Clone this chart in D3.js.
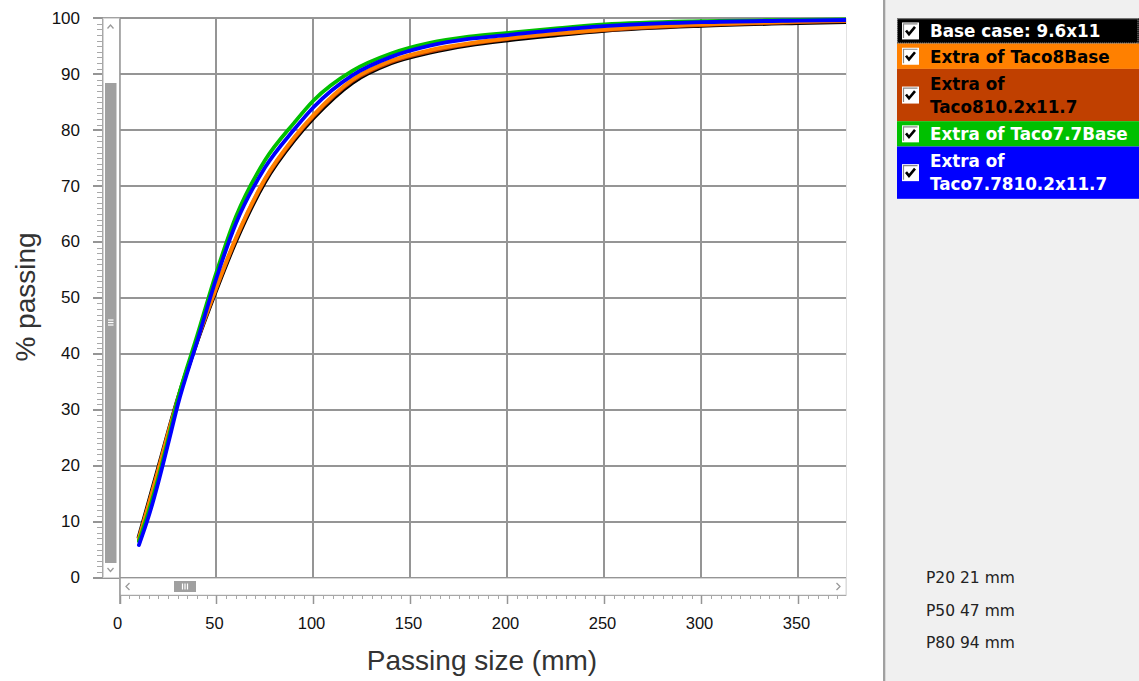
<!DOCTYPE html>
<html>
<head>
<meta charset="utf-8">
<script src="https://cdn.jsdelivr.net/npm/d3@7"></script>
<style>
  html, body { margin: 0; padding: 0; background: #ffffff; }
  svg { display: block; }
</style>
</head>
<body>
<svg id="chart" width="1139" height="681"></svg>
<script>
// Passing size (mm) at which each curve is sampled
const sizes = [10, 15, 20, 25, 30, 40, 50, 60, 75, 90, 100, 120, 140, 160, 180, 200, 225, 250, 300, 350, 375];

// % passing for each case
const baseCase   = [7.2, 13.3, 19.5, 25.8, 31.8, 42.3, 51.6, 60.2, 70.8, 78.2, 82.2, 88.5, 92.0, 93.9, 95.2, 96.1, 97.0, 97.8, 98.7, 99.2, 99.4];
const taco8Base  = [7.0, 13.0, 19.2, 25.7, 31.8, 42.5, 52.0, 60.7, 71.3, 78.7, 82.7, 89.0, 92.4, 94.3, 95.5, 96.4, 97.3, 98.0, 98.9, 99.4, 99.6];
const taco810    = [6.8, 12.9, 19.1, 25.5, 31.6, 42.3, 51.8, 60.5, 71.1, 78.5, 82.5, 88.8, 92.2, 94.1, 95.4, 96.3, 97.2, 97.9, 98.8, 99.3, 99.5];
const taco77Base = [6.5, 11.8, 17.8, 24.6, 31.8, 43.2, 54.6, 64.5, 74.6, 81.3, 85.3, 90.6, 93.7, 95.6, 96.7, 97.4, 98.2, 98.9, 99.5, 99.7, 99.8];
const taco77810  = [5.8, 10.9, 17.0, 23.8, 30.8, 42.2, 53.6, 63.3, 73.3, 80.1, 84.1, 89.8, 93.1, 95.1, 96.3, 97.0, 97.9, 98.6, 99.3, 99.6, 99.7];

const seriesNames = ["Base case: 9.6x11", "Extra of Taco8Base", "Extra of Taco810.2x11.7", "Extra of Taco7.7Base", "Extra of Taco7.7810.2x11.7"];
const seriesColors = ["#000000", "#ff8000", "#c04000", "#00c000", "#0000ff"];
const legendTextColors = ["#ffffff", "#000000", "#000000", "#ffffff", "#ffffff"];
const seriesValues = [baseCase, taco8Base, taco810, taco77Base, taco77810];

const xTicks = [0, 50, 100, 150, 200, 250, 300, 350];
const yTicks = [0, 10, 20, 30, 40, 50, 60, 70, 80, 90, 100];
const xTitle = "Passing size (mm)";
const yTitle = "% passing";
const percentileLabels = ["P20 21 mm", "P50 47 mm", "P80 94 mm"];

const svg = d3.select("#chart");
const W = 1139, H = 681;

// plot frame
const plot = { left: 119.5, right: 846, top: 18.3, bottom: 577.5 };
const x = d3.scaleLinear().domain([0, 374.5]).range([plot.left, plot.right]);
const y = d3.scaleLinear().domain([0, 100]).range([plot.bottom, plot.top]);

const gridColor = "#959595";
const tickFont = "'Liberation Sans', Arial, sans-serif";

// ---- right side panel ----
svg.append("rect").attr("x", 0).attr("y", 0).attr("width", W).attr("height", H).attr("fill", "#ffffff");
svg.append("rect").attr("x", 886).attr("y", 0).attr("width", W - 886).attr("height", H).attr("fill", "#f0f0f0");
svg.append("rect").attr("x", 883).attr("y", 0).attr("width", 2).attr("height", H).attr("fill", "#a0a0a0");
svg.append("rect").attr("x", 885).attr("y", 0).attr("width", 1).attr("height", H).attr("fill", "#d8d8d8");

// ---- gridlines ----
const grid = svg.append("g").attr("stroke", gridColor).attr("stroke-width", 2);
grid.selectAll("line.h").data(yTicks).join("line")
  .attr("class", "h")
  .attr("x1", 93).attr("x2", plot.right)
  .attr("y1", d => Math.round(y(d))).attr("y2", d => Math.round(y(d)));
grid.selectAll("line.v").data(xTicks.filter(d => d > 0)).join("line")
  .attr("class", "v")
  .attr("x1", d => Math.round(x(d))).attr("x2", d => Math.round(x(d)))
  .attr("y1", plot.top).attr("y2", plot.bottom);
// light right border of the plot
svg.append("line").attr("x1", plot.right + 0.5).attr("x2", plot.right + 0.5)
  .attr("y1", plot.top).attr("y2", 596).attr("stroke", "#e2e2e2").attr("stroke-width", 1);

// ---- y ruler with minor ticks ----
const yRuler = svg.append("g").attr("stroke", "#a8a8a8").attr("stroke-width", 1);
yRuler.append("line").attr("x1", 102.5).attr("x2", 102.5).attr("y1", plot.top).attr("y2", plot.bottom);
yRuler.selectAll("line.m").data(d3.range(0, 101, 1).filter(v => v % 10 !== 0)).join("line")
  .attr("class", "m")
  .attr("x1", 97).attr("x2", 102.5)
  .attr("y1", d => Math.round(y(d)) + 0.5).attr("y2", d => Math.round(y(d)) + 0.5);

// ---- vertical scrollbar ----
const vs = svg.append("g");
vs.append("rect").attr("x", 103.5).attr("y", plot.top).attr("width", 16).attr("height", plot.bottom - plot.top)
  .attr("fill", "#ffffff").attr("stroke", "#d6d6d6").attr("stroke-width", 1);
vs.append("rect").attr("x", 105).attr("y", 83).attr("width", 11.5).attr("height", 480).attr("fill", "#a0a0a0");
vs.append("path").attr("d", "M107.5,28.5 L110.5,25 L113.5,28.5").attr("fill", "none").attr("stroke", "#9a9a9a").attr("stroke-width", 1.3);
vs.append("path").attr("d", "M107.5,568 L110.5,571.5 L113.5,568").attr("fill", "none").attr("stroke", "#9a9a9a").attr("stroke-width", 1.3);
vs.selectAll("line.grip").data([-2.5, 0, 2.5]).join("line")
  .attr("x1", 108).attr("x2", 113.5).attr("y1", d => 322.5 + d).attr("y2", d => 322.5 + d)
  .attr("stroke", "#ffffff").attr("stroke-width", 1.2);

// ---- horizontal scrollbar ----
const hs = svg.append("g");
hs.append("rect").attr("x", plot.left).attr("y", 578.5).attr("width", plot.right - plot.left).attr("height", 16.5)
  .attr("fill", "#ffffff").attr("stroke", "#d6d6d6").attr("stroke-width", 1);
hs.append("rect").attr("x", 174).attr("y", 581).attr("width", 22).attr("height", 11).attr("fill", "#a0a0a0");
hs.append("path").attr("d", "M129.5,583 L126,586.5 L129.5,590").attr("fill", "none").attr("stroke", "#9a9a9a").attr("stroke-width", 1.3);
hs.append("path").attr("d", "M836.5,583 L840,586.5 L836.5,590").attr("fill", "none").attr("stroke", "#9a9a9a").attr("stroke-width", 1.3);
hs.selectAll("line.grip").data([-2.5, 0, 2.5]).join("line")
  .attr("x1", d => 185 + d).attr("x2", d => 185 + d).attr("y1", 583.5).attr("y2", 589.5)
  .attr("stroke", "#ffffff").attr("stroke-width", 1.2);
// left edge of plot / scrollbar down to the ruler
svg.append("line").attr("x1", plot.left + 0.5).attr("x2", plot.left + 0.5).attr("y1", plot.top).attr("y2", 604)
  .attr("stroke", gridColor).attr("stroke-width", 1.5);

// ---- x ruler ----
const xr = svg.append("g").attr("stroke", "#a8a8a8").attr("stroke-width", 1);
xr.append("line").attr("x1", plot.left).attr("x2", plot.right).attr("y1", 595.5).attr("y2", 595.5);
xr.selectAll("line.m").data(d3.range(5, 375, 5).filter(v => v % 50 !== 0)).join("line")
  .attr("class", "m")
  .attr("x1", d => Math.round(x(d)) + 0.5).attr("x2", d => Math.round(x(d)) + 0.5)
  .attr("y1", 595.5).attr("y2", 599);
xr.selectAll("line.M").data(xTicks).join("line")
  .attr("class", "M")
  .attr("stroke", gridColor).attr("stroke-width", 1.5)
  .attr("x1", d => Math.round(x(d)) + 0.5).attr("x2", d => Math.round(x(d)) + 0.5)
  .attr("y1", 595.5).attr("y2", 604);

// ---- tick labels ----
svg.append("g").selectAll("text").data(yTicks).join("text")
  .attr("x", 80).attr("y", d => y(d))
  .attr("text-anchor", "end").attr("dominant-baseline", "central")
  .attr("font-family", tickFont).attr("font-size", 17).attr("fill", "#111")
  .text(d => d);
svg.append("g").selectAll("text").data(xTicks).join("text")
  .attr("x", d => x(d) - 2).attr("y", 623)
  .attr("text-anchor", "middle").attr("dominant-baseline", "central")
  .attr("font-family", tickFont).attr("font-size", 16.5).attr("fill", "#111")
  .text(d => d);

// ---- axis titles ----
svg.append("text").attr("x", 482).attr("y", 660)
  .attr("text-anchor", "middle").attr("dominant-baseline", "central")
  .attr("font-family", tickFont).attr("font-size", 28).attr("fill", "#333")
  .text(xTitle);
svg.append("text").attr("transform", "translate(25,297) rotate(-90)")
  .attr("text-anchor", "middle").attr("dominant-baseline", "central")
  .attr("font-family", tickFont).attr("font-size", 28).attr("fill", "#333")
  .text(yTitle);

// ---- curves ----
svg.append("clipPath").attr("id", "plotClip").append("rect")
  .attr("x", plot.left + 1).attr("y", plot.top - 4).attr("width", plot.right - plot.left - 1).attr("height", plot.bottom - plot.top + 4);
const line = d3.line().x(d => x(d[0])).y(d => y(d[1])).curve(d3.curveMonotoneX);
const curves = svg.append("g").attr("clip-path", "url(#plotClip)");
// draw order keeps the lighter cases visible over the base case
[0, 2, 1, 3, 4].forEach(i => {
  curves.append("path")
    .datum(sizes.map((s, k) => [s, seriesValues[i][k]]))
    .attr("d", line)
    .attr("fill", "none")
    .attr("stroke", seriesColors[i])
    .attr("stroke-width", i === 0 ? 4.4 : 3.8)
    .attr("stroke-linejoin", "round")
    .attr("stroke-linecap", "round");
});

// ---- legend ----
const legendFont = "'DejaVu Sans', Verdana, sans-serif";
const legend = svg.append("g");
const lgLeft = 897, lgRight = W, textX = 930, maxTextW = lgRight - textX - 3;
const lineH = 23;
const measurer = svg.append("text").attr("font-family", legendFont).attr("font-size", 16.8).attr("font-weight", "bold").attr("visibility", "hidden");
function wrap(label) {
  const words = label.split(" ");
  const lines = [];
  let cur = "";
  words.forEach(w => {
    const test = cur ? cur + " " + w : w;
    measurer.text(test);
    if (cur && measurer.node().getComputedTextLength() > maxTextW) { lines.push(cur); cur = w; }
    else cur = test;
  });
  lines.push(cur);
  return lines;
}
let itemTop = 18.3;
seriesNames.forEach((name, i) => {
  const lines = wrap(name);
  const h = 25.3 + (lines.length - 1) * 27;
  const g = legend.append("g");
  g.append("rect").attr("x", lgLeft).attr("y", itemTop).attr("width", lgRight - lgLeft).attr("height", h).attr("fill", seriesColors[i]);
  const cy = itemTop + h / 2;
  // checkbox
  g.append("rect").attr("x", 902).attr("y", cy - 8.5).attr("width", 17).attr("height", 17).attr("fill", "#ffffff");
  g.append("path").attr("d", `M903.5,${cy + 7} L903.5,${cy - 7} L917.5,${cy - 7}`).attr("fill", "none").attr("stroke", "#8a8a8a").attr("stroke-width", 1.2);
  g.append("path").attr("d", `M906,${cy - 0.5} L909,${cy + 3.2} L915,${cy - 4}`).attr("fill", "none").attr("stroke", "#000").attr("stroke-width", 2.6);
  lines.forEach((t, k) => {
    g.append("text")
      .attr("x", textX)
      .attr("y", cy - (lines.length - 1) * lineH / 2 + k * lineH + 6.3)
      .attr("font-family", legendFont).attr("font-size", 16.8).attr("font-weight", "bold")
      .attr("fill", legendTextColors[i])
      .text(t);
  });
  if (i === 0) {
    g.append("rect").attr("x", lgLeft + 0.5).attr("y", itemTop + 0.5).attr("width", lgRight - lgLeft - 1.5).attr("height", h - 1)
      .attr("fill", "none").attr("stroke", "#c8c8c8").attr("stroke-width", 1).attr("stroke-dasharray", "1,1");
  }
  itemTop += h;
});
measurer.remove();

// ---- percentile readouts ----
svg.append("g").selectAll("text").data(percentileLabels).join("text")
  .attr("x", 926).attr("y", (d, i) => 578.3 + i * 32.5)
  .attr("dominant-baseline", "central")
  .attr("font-family", "'DejaVu Sans', Verdana, sans-serif").attr("font-size", 15.5).attr("fill", "#222")
  .text(d => d);
</script>
</body>
</html>
